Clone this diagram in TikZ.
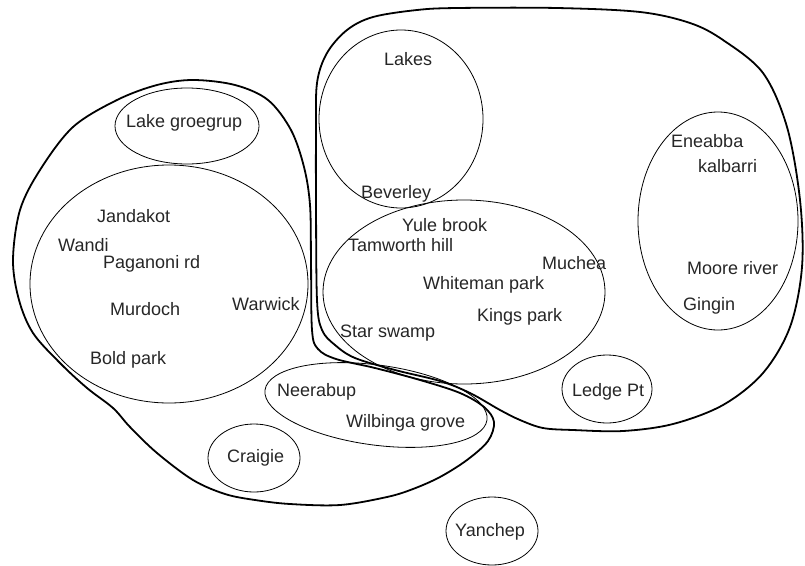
\documentclass[tikz,border=0pt]{standalone}
\usepackage{fontspec}
\setmainfont{Liberation Sans}
\begin{document}
\begin{tikzpicture}[x=1pt,y=-1pt,
  outline/.style={line width=1.8pt, line join=round},
  setline/.style={line width=0.8pt},
  lbl/.style={anchor=base west, inner sep=0pt, font=\fontsize{18}{20}\selectfont, text=black!85}]
\useasboundingbox (0,0) rectangle (805,565);
% left group outline
\draw[outline] plot[smooth cycle, tension=0.55] coordinates {
 (193,80) (235,85) (268,100) (291,130) (304,167) (310,205) (311,260) (312,330)
 (318,349) (336,359) (375,368) (420,380) (460,393) (484,407) (494,422) (488,441)
 (467,460) (440,477) (413,489) (387,497) (340,505) (290,504) (255,500) (225,494)
 (193,480) (157,453) (130,427) (113,408) (87,388) (60,363) (33,333) (19,300)
 (13,260) (20,210) (40,170) (73,127) (117,100) (157,85)};
% right group outline
\draw[outline] plot[smooth cycle, tension=0.55] coordinates {
 (457,8) (557,8) (640,12) (690,23) (723,40) (763,73) (787,127) (800,200)
 (802,267) (790,327) (763,373) (723,405) (673,424) (623,431) (573,430) (543,428)
 (520,420) (500,410) (470,393) (440,381) (395,370) (355,358) (335,345) (322,330)
 (317,300) (316,200) (316,133) (317,83) (327,53) (347,30) (373,17) (417,10)};
% sets
\draw[setline] (187,126) ellipse [x radius=72pt, y radius=38pt];
\draw[setline] (169,284) ellipse [x radius=139pt, y radius=119pt];
\draw[setline] (254,458) ellipse [x radius=46pt, y radius=34pt];
\draw[setline, rotate around={-7.7:(376,405)}] (376,405) ellipse [x radius=112pt, y radius=40pt];
\draw[setline] (401,119) ellipse [x radius=82pt, y radius=89pt];
\draw[setline] (464,292) ellipse [x radius=141pt, y radius=92pt];
\draw[setline] (718,221) ellipse [x radius=80pt, y radius=109pt];
\draw[setline] (607,389) ellipse [x radius=45pt, y radius=34pt];
\draw[setline] (492,531) ellipse [x radius=46pt, y radius=34pt];
% labels
\node[lbl] (lakegroegrup) at (126,127) {Lake groegrup};
\node[lbl] (jandakot) at (97,222) {Jandakot};
\node[lbl] (wandi) at (58,251) {Wandi};
\node[lbl] (paganoni) at (103,268) {Paganoni rd};
\node[lbl] (murdoch) at (110,315) {Murdoch};
\node[lbl] (warwick) at (232,310) {Warwick};
\node[lbl] (boldpark) at (90,364) {Bold park};
\node[lbl] (neerabup) at (277,396) {Neerabup};
\node[lbl] (wilbinga) at (346,427) {Wilbinga grove};
\node[lbl] (craigie) at (227,462) {Craigie};
\node[lbl] (lakes) at (384,65) {Lakes};
\node[lbl] (beverley) at (361,198) {Beverley};
\node[lbl] (yulebrook) at (402,231) {Yule brook};
\node[lbl] (tamworth) at (348,251) {Tamworth hill};
\node[lbl] (muchea) at (542,269) {Muchea};
\node[lbl] (whiteman) at (423,289) {Whiteman park};
\node[lbl] (kingspark) at (477,321) {Kings park};
\node[lbl] (starswamp) at (340,337) {Star swamp};
\node[lbl] (ledgept) at (572,396) {Ledge Pt};
\node[lbl] (eneabba) at (671,147) {Eneabba};
\node[lbl] (kalbarri) at (698,172) {kalbarri};
\node[lbl] (mooreriver) at (687,274) {Moore river};
\node[lbl] (gingin) at (683,310) {Gingin};
\node[lbl] (yanchep) at (455,536) {Yanchep};
\end{tikzpicture}
\end{document}
